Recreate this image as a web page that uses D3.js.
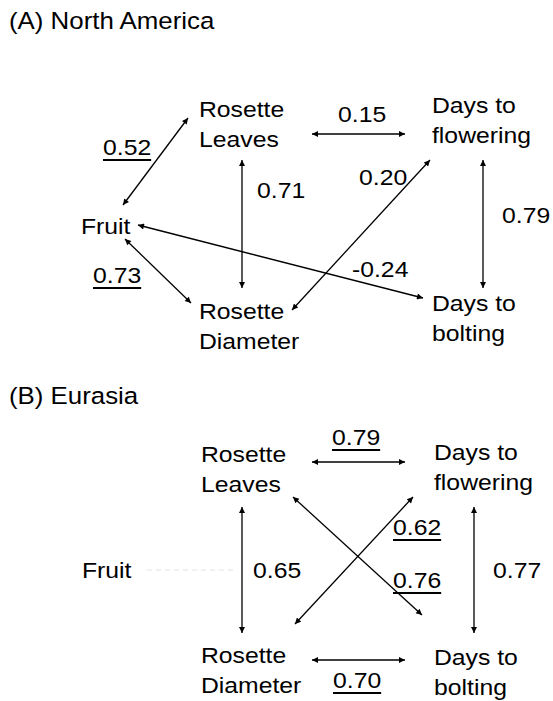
<!DOCTYPE html>
<html><head><meta charset="utf-8">
<script src="https://cdn.jsdelivr.net/npm/d3@7"></script>
<style>
html,body{margin:0;padding:0;background:#fff;}
text{font-family:"Liberation Sans",Arial,sans-serif;fill:#000;}
</style></head>
<body>
<script>
// ---------- DATA ----------
const panelTitles = ["(A) North America", "(B) Eurasia"];
const traits = ["Fruit", "Rosette Leaves", "Rosette Diameter", "Days to flowering", "Days to bolting"];
const traitLines = [["Fruit"], ["Rosette", "Leaves"], ["Rosette", "Diameter"], ["Days to", "flowering"], ["Days to", "bolting"]];

// Panel A correlations
const edgesA_from   = ["Fruit", "Fruit", "Rosette Leaves", "Rosette Leaves", "Rosette Diameter", "Fruit", "Days to flowering"];
const edgesA_to     = ["Rosette Leaves", "Rosette Diameter", "Rosette Diameter", "Days to flowering", "Days to flowering", "Days to bolting", "Days to bolting"];
const edgesA_values = ["0.52", "0.73", "0.71", "0.15", "0.20", "-0.24", "0.79"];
const edgesA_underline = [true, true, false, false, false, false, false];

// Panel B correlations
const edgesB_from   = ["Rosette Leaves", "Rosette Leaves", "Days to flowering", "Rosette Diameter", "Rosette Leaves", "Rosette Diameter"];
const edgesB_to     = ["Days to flowering", "Rosette Diameter", "Days to bolting", "Days to bolting", "Days to bolting", "Days to flowering"];
const edgesB_values = ["0.79", "0.65", "0.77", "0.70", "0.76", "0.62"];
const edgesB_underline = [true, false, false, true, true, true];
const edgesB_dashed_from = ["Fruit"];   // unconnected trait (no arrow)

// ---------- LAYOUT (positions only) ----------
const W = 553, H = 701;
const svg = d3.select("body").append("svg").attr("width", W).attr("height", H);

const defs = svg.append("defs");
defs.append("marker").attr("id", "ah").attr("viewBox", "0 0 10 10")
  .attr("refX", 10).attr("refY", 5).attr("markerWidth", 8).attr("markerHeight", 6)
  .attr("markerUnits", "userSpaceOnUse").attr("orient", "auto-start-reverse")
  .append("path").attr("d", "M0,0L10,5L0,10Z").attr("fill", "#000");

const SX = 1.1;          // horizontal stretch of the original figure text
const FS = 22.5, TFS = 23.5;
const LH = 29.5;

// node text anchor (left x, first baseline) per panel
const nodePos = [
  {"Fruit": [81, 234], "Rosette Leaves": [199, 117], "Rosette Diameter": [199, 319], "Days to flowering": [432, 113], "Days to bolting": [432, 311]},
  {"Fruit": [82, 578], "Rosette Leaves": [201, 462], "Rosette Diameter": [201, 663], "Days to flowering": [434, 460], "Days to bolting": [434, 665]}
];
// arrow endpoints keyed "from|to"
const arrowPos = [
  {
    "Fruit|Rosette Leaves": [[123, 205], [188, 118]],
    "Fruit|Rosette Diameter": [[125, 239], [191, 303]],
    "Rosette Leaves|Rosette Diameter": [[242, 160], [242, 288]],
    "Rosette Leaves|Days to flowering": [[312, 134], [405, 134]],
    "Rosette Diameter|Days to flowering": [[292, 310], [430, 160]],
    "Fruit|Days to bolting": [[138, 225], [423, 298]],
    "Days to flowering|Days to bolting": [[483, 160], [483, 288]]
  },
  {
    "Rosette Leaves|Days to flowering": [[312, 462], [405, 462]],
    "Rosette Leaves|Rosette Diameter": [[242, 507], [242, 633]],
    "Days to flowering|Days to bolting": [[474, 507], [474, 633]],
    "Rosette Diameter|Days to bolting": [[312, 660], [405, 660]],
    "Rosette Leaves|Days to bolting": [[293, 497], [422, 615]],
    "Rosette Diameter|Days to flowering": [[295, 624], [413, 497]]
  }
];
const labelPos = [
  {"0.52": [103, 155], "0.73": [93, 283], "0.71": [257, 198], "0.15": [338, 122], "0.20": [359, 185], "-0.24": [352, 277], "0.79": [502, 223]},
  {"0.79": [332, 445], "0.65": [253, 578], "0.77": [493, 578], "0.70": [333, 688], "0.76": [393, 588], "0.62": [393, 535]}
];
const titlePos = [[9, 29], [9, 404]];
const dashPos = [[147, 570], [233, 570]];

function stretchedText(g, x, y, str, fs) {
  return g.append("text").attr("transform", `translate(${x},${y}) scale(${SX},1)`)
    .attr("font-size", fs).text(str);
}

const line = d3.line();

function drawPanel(p, from, to, values, underline) {
  const g = svg.append("g");
  stretchedText(g, titlePos[p][0], titlePos[p][1], panelTitles[p], TFS);
  traits.forEach((t, i) => {
    const [x, y] = nodePos[p][t];
    traitLines[i].forEach((ln, j) => stretchedText(g, x, y + j * LH, ln, FS));
  });
  from.forEach((f, i) => {
    const pts = arrowPos[p][f + "|" + to[i]];
    g.append("path").attr("d", line(pts)).attr("stroke", "#000").attr("stroke-width", 1.3)
      .attr("fill", "none").attr("marker-start", "url(#ah)").attr("marker-end", "url(#ah)");
    const [lx, ly] = labelPos[p][values[i]];
    const t = stretchedText(g, lx, ly, values[i], FS);
    if (underline[i]) {
      const w = t.node().getComputedTextLength() * SX;
      g.append("line").attr("x1", lx).attr("x2", lx + w).attr("y1", ly + 5).attr("y2", ly + 5)
        .attr("stroke", "#000").attr("stroke-width", 2);
    }
  });
  return g;
}

drawPanel(0, edgesA_from, edgesA_to, edgesA_values, edgesA_underline);
const gB = drawPanel(1, edgesB_from, edgesB_to, edgesB_values, edgesB_underline);
edgesB_dashed_from.forEach(() => {
  gB.append("path").attr("d", line(dashPos)).attr("stroke", "#e2e2e2").attr("stroke-width", 1)
    .attr("stroke-dasharray", "5,4");
});
</script>
</body></html>
